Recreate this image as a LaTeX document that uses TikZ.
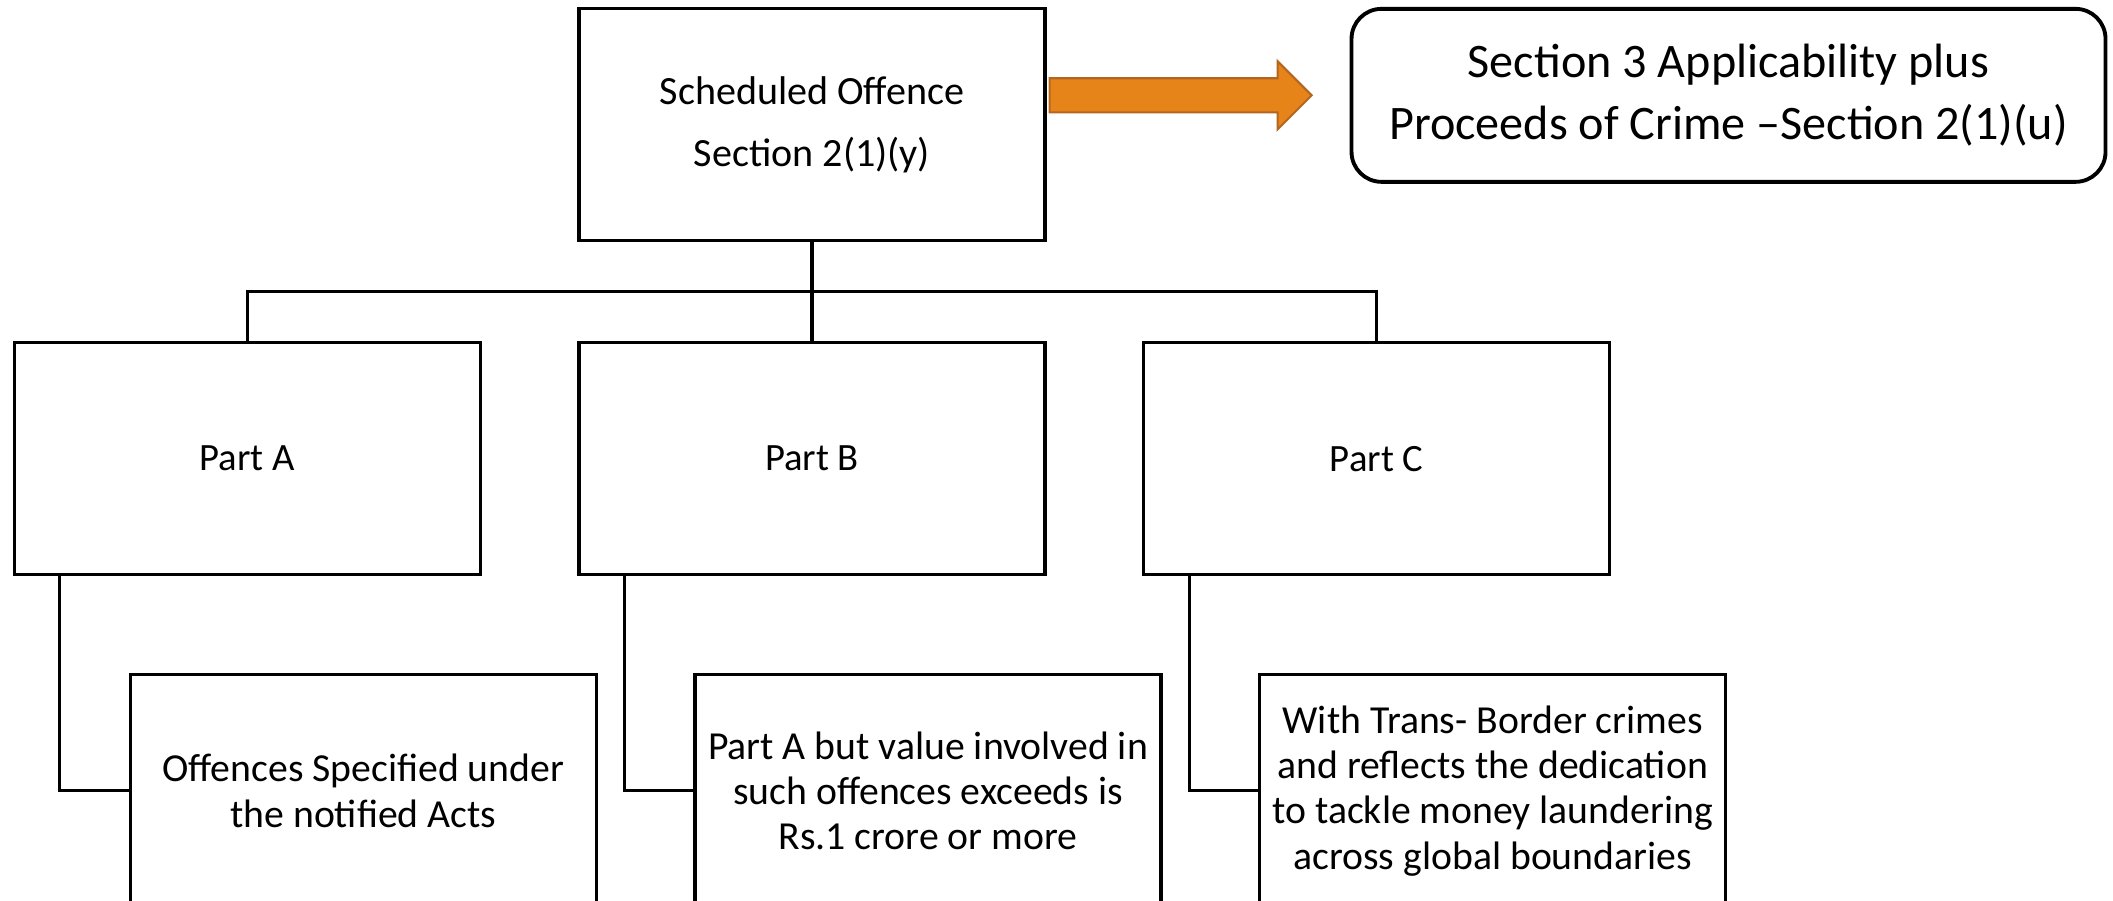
\documentclass[tikz,border=0pt]{standalone}
\usepackage{fontspec}
\setmainfont{Carlito}
\usetikzlibrary{positioning,shapes.arrows}
\definecolor{arrfill}{HTML}{E6841A}
\definecolor{arrline}{HTML}{B3661F}
\begin{document}
\begin{tikzpicture}[node distance=0.955cm, line width=0.9pt,
    box/.style={draw, rectangle, minimum width=4.66cm, minimum height=2.32cm, align=center, inner sep=2pt, font=\fontsize{11}{17.3}\selectfont},
    headbox/.style={box, font=\fontsize{11.4}{17.6}\selectfont},
    notebox/.style={box, font=\fontsize{11.3}{12.9}\selectfont},
    roundbox/.style={draw, rectangle, rounded corners=0.3cm, line width=1.1pt, minimum width=7.54cm, minimum height=1.73cm, align=center, font=\fontsize{13.7}{17.6}\selectfont},
    bigarrow/.style={single arrow, draw=arrline, fill=arrfill, line width=0.6pt, minimum height=2.62cm, inner xsep=0pt, inner ysep=0.16cm, single arrow head extend=0.17cm, single arrow tip angle=90}]
    \useasboundingbox (0,0) rectangle (21.13,-9.01);
    \node[headbox] (sched) at (8.12,-1.245) {Scheduled Offence\\Section 2(1)(y)};
    \node[roundbox, anchor=north west] (sect) at ([xshift=3.03cm]sched.north east) {Section 3 Applicability plus\\Proceeds of Crime –Section 2(1)(u)};
    \node[bigarrow, anchor=tail] (arr) at ([xshift=0.02cm]sched.east |- sect.west) {};
    \node[box, below=0.99cm of sched] (pb) {Part B};
    \node[box, left=of pb] (pa) {Part A};
    \node[box, right=of pb] (pc) {Part C};
    \node[notebox, anchor=north west] (oa) at ([xshift=1.16cm,yshift=-0.97cm]pa.south west) {Offences Specified under\\the notified Acts};
    \node[notebox, anchor=north west] (ob) at ([xshift=1.16cm,yshift=-0.97cm]pb.south west) {Part A but value involved in\\such offences exceeds is\\Rs.1 crore or more};
    \node[notebox, anchor=north west] (oc) at ([xshift=1.16cm,yshift=-0.97cm]pc.south west) {With Trans- Border crimes\\and reflects the dedication\\to tackle money laundering\\across global boundaries};
    \coordinate[below=0.49cm of sched.south] (bus);

    \draw (sched.south) -- (pb.north);
    \draw (pa.north) |- (bus) -| (pc.north);
    \draw ([xshift=0.47cm]pa.south west) |- (oa.west);
    \draw ([xshift=0.47cm]pb.south west) |- (ob.west);
    \draw ([xshift=0.47cm]pc.south west) |- (oc.west);
\end{tikzpicture}
\end{document}
